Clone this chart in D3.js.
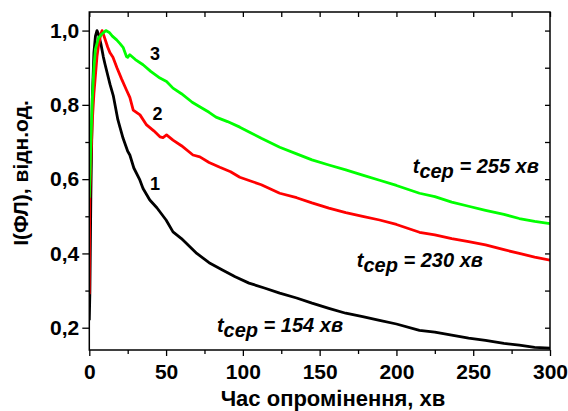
<!DOCTYPE html>
<html>
<head>
<meta charset="utf-8">
<script src="https://cdn.jsdelivr.net/npm/d3@7"></script>
<style>
  html, body { margin: 0; padding: 0; background: #fff; }
  svg { display: block; }
  text { font-family: Arial, "Liberation Sans", sans-serif; font-weight: bold; fill: #000; }
</style>
</head>
<body>
<svg id="chart" width="568" height="411"></svg>
<script>
// Photoluminescence intensity vs irradiation time, three samples
const time1 = [0, 0.4, 1, 2, 3, 4, 5, 6, 7.5, 9.1, 10.2, 12.3, 13.5, 15.6, 18.6, 19.9, 22, 25, 26.4, 29, 32.9, 35, 39.4, 44, 50, 54.5, 60, 65, 70, 78, 87, 95, 104, 114, 124, 135, 145, 156, 167, 178, 189, 200, 215, 225, 236, 247, 258, 270, 280, 290, 300];
const intensity1 = [0.22, 0.3, 0.55, 0.82, 0.94, 0.985, 1.0, 0.99, 0.965, 0.93, 0.91, 0.875, 0.855, 0.825, 0.76, 0.741, 0.71, 0.675, 0.665, 0.63, 0.598, 0.575, 0.544, 0.523, 0.49, 0.458, 0.44, 0.42, 0.40, 0.375, 0.355, 0.337, 0.32, 0.307, 0.293, 0.28, 0.266, 0.252, 0.239, 0.23, 0.22, 0.21, 0.193, 0.188, 0.18, 0.172, 0.166, 0.158, 0.153, 0.147, 0.145];

const time2 = [0, 0.3, 1, 2, 3, 4, 5, 6, 7.5, 8.3, 10, 12, 13.5, 15.4, 18, 21, 24.2, 26.4, 28.6, 33, 37.3, 42, 46, 48, 50.3, 54.5, 60, 67.5, 72, 78, 85, 92, 98, 105, 112, 124, 135, 145, 156, 167, 178, 189, 200, 215, 225, 236, 247, 258, 270, 280, 290, 300];
const intensity2 = [0.29, 0.55, 0.65, 0.76, 0.83, 0.88, 0.93, 0.96, 0.99, 1.0, 0.98, 0.955, 0.94, 0.928, 0.9, 0.87, 0.84, 0.82, 0.786, 0.773, 0.746, 0.73, 0.714, 0.712, 0.719, 0.705, 0.69, 0.665, 0.66, 0.645, 0.632, 0.62, 0.605, 0.595, 0.585, 0.562, 0.55, 0.536, 0.522, 0.51, 0.5, 0.49, 0.478, 0.457, 0.45, 0.44, 0.432, 0.423, 0.41, 0.4, 0.39, 0.382];

const time3 = [0, 0.5, 1, 2, 3, 4, 6, 8, 10.8, 13, 15, 17.8, 20, 22, 24.2, 25, 26.4, 30, 35, 40, 46, 50.3, 54.5, 60, 67, 71.9, 78, 82.5, 90, 98, 105, 112, 124, 135, 145, 156, 167, 178, 189, 200, 215, 225, 236, 247, 258, 270, 280, 290, 300];
const intensity3 = [0.55, 0.62, 0.7, 0.82, 0.9, 0.95, 0.98, 0.99, 1.0, 0.995, 0.985, 0.975, 0.965, 0.955, 0.93, 0.928, 0.935, 0.922, 0.908, 0.89, 0.872, 0.863, 0.845, 0.83, 0.807, 0.795, 0.78, 0.767, 0.755, 0.74, 0.725, 0.71, 0.686, 0.668, 0.652, 0.638, 0.625, 0.611, 0.597, 0.583, 0.562, 0.553, 0.538, 0.527, 0.516, 0.505, 0.494, 0.486, 0.48];

const seriesColors = ["#000000", "#ff0000", "#00ff00"];
const curveNumbers = ["1", "2", "3"];
const meanTimes = ["154", "230", "255"];

const xTicks = [0, 50, 100, 150, 200, 250, 300];
const xMinorTicks = [25, 75, 125, 175, 225, 275];
const yTicks = [0.2, 0.4, 0.6, 0.8, 1.0];
const yMinorTicks = [0.3, 0.5, 0.7, 0.9];

const xTitle = "Час опромінення, хв";
const yTitle = "I(ФЛ), відн.од.";

const svg = d3.select("#chart");
const plotLeft = 89.3, plotRight = 550, plotTop = 12, plotBottom = 350;

const x = d3.scaleLinear().domain([0, 300]).range([plotLeft, plotRight]);
const y = d3.scaleLinear().domain([0.14, 1.05]).range([plotBottom, plotTop]);

const fmtY = v => d3.format(".1f")(v).replace(".", ",");
const FONT = "Arial, 'Liberation Sans', sans-serif";

// curves
const series = [
  { t: time1, v: intensity1 },
  { t: time2, v: intensity2 },
  { t: time3, v: intensity3 }
];
const line = d3.line().x(d => x(d[0])).y(d => y(d[1])).curve(d3.curveLinear);
svg.append("clipPath").attr("id", "plotClip").append("rect")
  .attr("x", plotLeft).attr("y", plotTop)
  .attr("width", plotRight - plotLeft).attr("height", plotBottom - plotTop);
series.forEach((s, i) => {
  svg.append("path")
    .datum(s.t.map((t, k) => [t, s.v[k]]))
    .attr("d", line)
    .attr("fill", "none")
    .attr("stroke", seriesColors[i])
    .attr("stroke-width", 2.8)
    .attr("stroke-linejoin", "round")
    .attr("clip-path", "url(#plotClip)");
});

// axes: outer ticks on bottom/left, inner ticks on top/right
function styleAxis(g) {
  g.select(".domain").remove();
  g.selectAll("line").attr("stroke", "#000").attr("stroke-width", 1.3);
}
function styleLabels(g) {
  g.selectAll("text").attr("font-size", 21).attr("font-family", FONT)
    .attr("font-weight", "bold").attr("fill", "#000");
}
svg.append("g").attr("transform", `translate(0,${plotBottom})`)
  .call(d3.axisBottom(x).tickValues(xTicks).tickSize(6).tickPadding(8).tickFormat(d3.format("d")))
  .call(styleAxis).call(styleLabels);
svg.append("g").attr("transform", `translate(0,${plotBottom})`)
  .call(d3.axisBottom(x).tickValues(xMinorTicks).tickSize(4).tickFormat(""))
  .call(styleAxis);
svg.append("g").attr("transform", `translate(${plotLeft},0)`)
  .call(d3.axisLeft(y).tickValues(yTicks).tickSize(7).tickPadding(3).tickFormat(fmtY))
  .call(styleAxis).call(styleLabels);
svg.append("g").attr("transform", `translate(${plotLeft},0)`)
  .call(d3.axisLeft(y).tickValues(yMinorTicks).tickSize(4).tickFormat(""))
  .call(styleAxis);
svg.append("g").attr("transform", `translate(0,${plotTop})`)
  .call(d3.axisBottom(x).tickValues(xTicks.concat(xMinorTicks)).tickSize(5).tickFormat(""))
  .call(styleAxis);
svg.append("g").attr("transform", `translate(${plotRight},0)`)
  .call(d3.axisLeft(y).tickValues(yTicks.concat(yMinorTicks)).tickSize(5).tickFormat(""))
  .call(styleAxis);

// frame
svg.append("rect")
  .attr("x", plotLeft).attr("y", plotTop)
  .attr("width", plotRight - plotLeft).attr("height", plotBottom - plotTop)
  .attr("fill", "none").attr("stroke", "#000").attr("stroke-width", 1.5);

// axis titles
svg.append("text")
  .attr("x", 333).attr("y", 406)
  .attr("text-anchor", "middle").attr("font-size", 22)
  .text(xTitle);
svg.append("text")
  .attr("transform", "translate(28,173) rotate(-90)")
  .attr("text-anchor", "middle").attr("font-size", 21)
  .text(yTitle);

// curve numbers
const numberPos = [[42.8, 0.571], [44.4, 0.76], [42.8, 0.921]];
curveNumbers.forEach((n, i) => {
  svg.append("text")
    .attr("x", x(numberPos[i][0])).attr("y", y(numberPos[i][1]))
    .attr("text-anchor", "middle").attr("font-size", 18)
    .text(n);
});

// mean-time annotations
const notePos = [[83.1, 0.188], [174.2, 0.3635], [210.6, 0.617]];
meanTimes.forEach((m, i) => {
  const t = svg.append("text")
    .attr("x", x(notePos[i][0])).attr("y", y(notePos[i][1]))
    .attr("font-size", 20).attr("font-style", "italic");
  t.append("tspan").text("t");
  t.append("tspan").attr("dy", 5).text("сер");
  t.append("tspan").attr("dy", -5).text(` = ${m} хв`);
});
</script>
</body>
</html>
